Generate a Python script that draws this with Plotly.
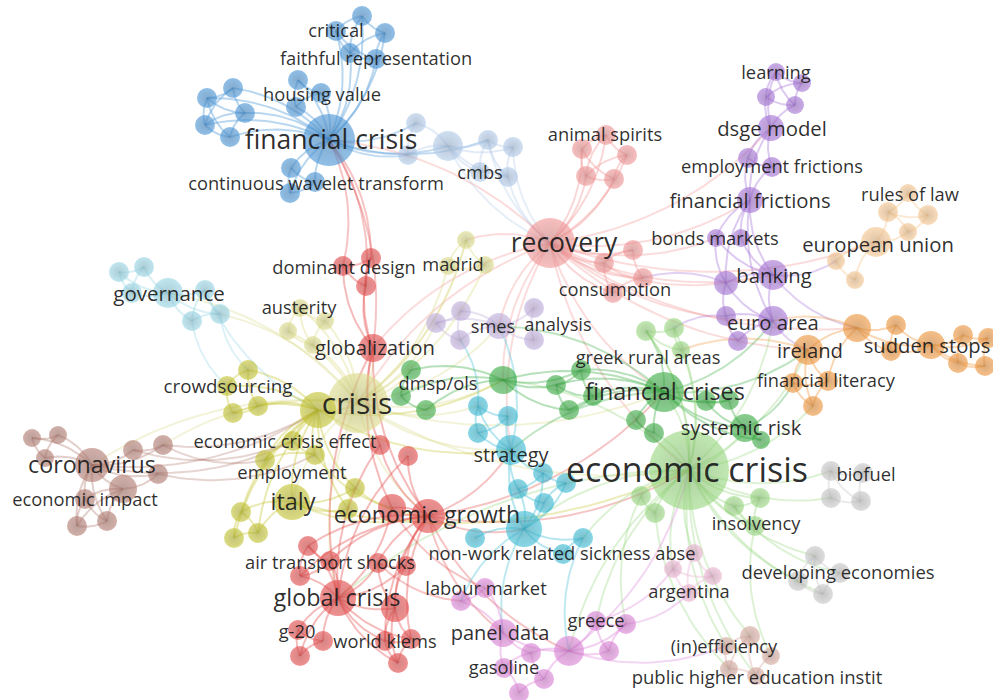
import numpy as np
import plotly.graph_objects as go

# ---- keyword co-occurrence map: nodes per cluster (id, x, y, radius) ----
blue = [("b0", 329, 140, 26), ("b1", 362, 16, 10), ("b2", 385, 33, 10), ("b3", 336, 31, 10),
        ("b4", 350, 53, 10), ("b5", 376, 59, 10), ("b6", 298, 80, 10), ("b7", 321, 93, 10),
        ("b8", 296, 107, 10), ("b9", 245, 113, 10), ("b10", 291, 168, 10), ("b11", 290, 193, 10),
        ("b12", 315, 182, 10), ("b13", 207, 98, 10), ("b14", 233, 88, 10), ("b16", 205, 125, 10),
        ("b17", 230, 137, 10)]
light_blue = [("lb0", 448, 146, 15), ("lb1", 416, 123, 10), ("lb2", 408, 155, 10), ("lb3", 488, 140, 10),
              ("lb4", 513, 147, 10), ("lb5", 508, 177, 10), ("lb6", 480, 172, 10)]
salmon = [("rc0", 550, 243, 25), ("rc1", 606, 135, 10), ("rc2", 582, 149, 10), ("rc3", 627, 155, 10),
          ("rc4", 586, 176, 10), ("rc5", 614, 179, 10), ("rc6", 633, 250, 10), ("rc7", 604, 263, 10),
          ("rc8", 643, 278, 10), ("rc9", 613, 293, 10)]
purple = [("p0", 776, 72, 9), ("p1", 802, 83, 9), ("p2", 766, 97, 9), ("p3", 795, 105, 9),
          ("p4", 771, 128, 13), ("p5", 748, 158, 10), ("p6", 772, 167, 10), ("p7", 750, 200, 13),
          ("p8", 716, 238, 9), ("p9", 741, 238, 9), ("p10", 773, 275, 15), ("p11", 726, 283, 12),
          ("p12", 773, 321, 15), ("p13", 726, 316, 10), ("p14", 738, 341, 10)]
lavender = [("lv0", 499, 326, 13), ("lv1", 436, 323, 10), ("lv2", 461, 311, 10), ("lv3", 460, 340, 10),
            ("lv4", 534, 308, 10), ("lv5", 534, 340, 10)]
orange = [("o0", 857, 328, 14), ("o1", 896, 325, 10), ("o2", 891, 351, 10), ("o3", 931, 345, 14),
          ("o4", 963, 335, 10), ("o5", 988, 338, 10), ("o6", 958, 363, 10), ("o7", 985, 366, 10),
          ("o8", 808, 350, 15), ("o9", 793, 383, 10), ("o10", 828, 381, 10), ("o11", 813, 406, 10)]
light_orange = [("lo0", 876, 242, 15), ("lo1", 836, 261, 9), ("lo2", 855, 280, 9), ("lo3", 908, 232, 9),
                ("lo4", 888, 212, 10), ("lo5", 908, 193, 9), ("lo6", 928, 215, 10)]
green = [("g0", 664, 392, 20), ("g1", 503, 380, 14), ("g2", 556, 385, 10), ("g3", 581, 370, 10),
         ("g4", 569, 410, 10), ("g5", 593, 396, 10), ("g6", 636, 420, 10), ("g7", 654, 433, 10),
         ("g8", 706, 401, 10), ("g9", 729, 400, 10), ("g10", 745, 428, 14), ("g11", 761, 440, 9),
         ("g12", 411, 370, 10), ("g13", 401, 396, 10), ("g14", 426, 410, 10)]
light_green = [("lg0", 689, 470, 40), ("lg1", 646, 331, 10), ("lg2", 674, 328, 10), ("lg3", 681, 350, 9),
               ("lg4", 641, 496, 10), ("lg5", 655, 513, 10), ("lg6", 734, 506, 10), ("lg7", 760, 498, 10),
               ("lg8", 755, 526, 10)]
cyan = [("c0", 478, 406, 10), ("c1", 478, 433, 10), ("c2", 508, 416, 10), ("c3", 511, 450, 15),
        ("c4", 524, 529, 18), ("c5", 518, 489, 10), ("c6", 543, 473, 10), ("c7", 566, 483, 10),
        ("c8", 544, 503, 10), ("c9", 583, 538, 10), ("c10", 563, 554, 10), ("c11", 475, 538, 10)]
light_cyan = [("lc0", 119, 272, 10), ("lc1", 144, 267, 10), ("lc2", 132, 293, 10), ("lc3", 168, 293, 15),
              ("lc4", 205, 290, 10), ("lc5", 220, 314, 10), ("lc6", 192, 321, 10)]
khaki = [("k0", 358, 403, 30), ("k1", 300, 308, 9), ("k2", 325, 321, 9), ("k3", 288, 331, 9),
         ("k4", 313, 345, 9), ("k5", 466, 240, 9), ("k6", 448, 266, 9), ("k7", 485, 265, 9)]
olive = [("ol0", 318, 410, 18), ("ol1", 248, 370, 10), ("ol2", 227, 386, 10), ("ol3", 233, 413, 10),
         ("ol4", 258, 406, 10), ("ol5", 293, 441, 10), ("ol6", 315, 455, 10), ("ol7", 265, 460, 10),
         ("ol8", 292, 502, 18), ("ol9", 355, 488, 10), ("ol10", 348, 509, 10), ("ol11", 258, 533, 10),
         ("ol12", 241, 512, 10), ("ol13", 234, 538, 10)]
red = [("r0", 428, 516, 17), ("r1", 392, 508, 14), ("r2", 308, 546, 10), ("r3", 300, 576, 10),
       ("r4", 330, 561, 10), ("r5", 378, 563, 10), ("r6", 406, 566, 10), ("r7", 338, 598, 18),
       ("r8", 395, 608, 14), ("r9", 298, 630, 10), ("r10", 323, 641, 10), ("r11", 300, 656, 10),
       ("r12", 385, 641, 10), ("r13", 411, 639, 10), ("r14", 398, 663, 10), ("r15", 343, 266, 10),
       ("r16", 371, 258, 10), ("r17", 366, 286, 10), ("r18", 373, 348, 14), ("r19", 380, 445, 10),
       ("r20", 408, 456, 10)]
brown = [("br0", 92, 465, 17), ("br1", 32, 438, 9), ("br2", 58, 435, 9), ("br3", 45, 458, 9),
         ("br4", 133, 450, 10), ("br5", 163, 445, 10), ("br6", 123, 489, 14), ("br7", 85, 499, 10),
         ("br8", 77, 526, 10), ("br9", 107, 521, 10), ("br10", 158, 474, 10)]
pink = [("pk0", 503, 633, 14), ("pk1", 569, 651, 15), ("pk2", 596, 621, 10), ("pk3", 626, 624, 10),
        ("pk4", 609, 651, 10), ("pk5", 531, 653, 10), ("pk6", 544, 679, 10), ("pk7", 519, 693, 10),
        ("pk8", 504, 668, 10), ("pk9", 461, 601, 10), ("pk10", 485, 588, 10)]
light_pink = [("lp0", 694, 553, 9), ("lp1", 673, 569, 9), ("lp2", 713, 576, 9), ("lp3", 689, 593, 9)]
tan = [("t0", 750, 636, 10), ("t1", 771, 656, 9), ("t2", 756, 676, 9), ("t3", 726, 646, 9),
       ("t4", 729, 669, 9)]
gray = [("gr0", 831, 471, 10), ("gr1", 863, 473, 10), ("gr2", 831, 498, 10), ("gr3", 861, 501, 10),
        ("gr4", 815, 556, 10), ("gr5", 840, 573, 10), ("gr6", 798, 581, 10), ("gr7", 823, 594, 10)]

clusters = {
    "blue": blue, "light_blue": light_blue, "salmon": salmon, "purple": purple,
    "lavender": lavender, "orange": orange, "light_orange": light_orange, "green": green,
    "light_green": light_green, "cyan": cyan, "light_cyan": light_cyan, "khaki": khaki,
    "olive": olive, "red": red, "brown": brown, "pink": pink, "light_pink": light_pink,
    "tan": tan, "gray": gray,
}

cluster_colors = {
    "blue": (74, 150, 215), "light_blue": (178, 203, 234), "salmon": (242, 150, 150),
    "purple": (166, 116, 215), "lavender": (194, 176, 222), "orange": (240, 150, 60),
    "light_orange": (245, 197, 142), "green": (60, 174, 70), "light_green": (153, 216, 128),
    "cyan": (60, 188, 214), "light_cyan": (152, 214, 230), "khaki": (220, 220, 140),
    "olive": (196, 196, 50), "red": (229, 75, 75), "brown": (180, 125, 115),
    "pink": (220, 130, 215), "light_pink": (235, 180, 210), "tan": (215, 170, 160),
    "gray": (200, 200, 200),
}

# ---- links (source, target) ----
links_within = [
    # financial crisis
    *[("b0", n) for n in ["b1", "b2", "b3", "b4", "b5", "b6", "b7", "b8", "b9", "b10", "b11", "b12",
                          "b13", "b14", "b16", "b17"]],
    ("b1", "b2"), ("b1", "b3"), ("b2", "b5"), ("b3", "b4"), ("b4", "b5"), ("b3", "b5"), ("b1", "b4"),
    ("b2", "b4"), ("b6", "b7"), ("b7", "b8"), ("b6", "b8"), ("b13", "b14"), ("b14", "b9"),
    ("b13", "b16"), ("b16", "b17"), ("b9", "b17"), ("b13", "b9"), ("b14", "b16"), ("b9", "b16"),
    ("b13", "b17"), ("b10", "b11"), ("b11", "b12"), ("b10", "b12"),
    # cmbs
    ("lb0", "lb1"), ("lb0", "lb2"), ("lb0", "lb3"), ("lb0", "lb4"), ("lb0", "lb5"), ("lb0", "lb6"),
    ("lb3", "lb4"), ("lb4", "lb5"), ("lb5", "lb6"), ("lb3", "lb6"), ("lb1", "lb2"), ("lb3", "lb5"),
    # recovery
    *[("rc0", n) for n in ["rc1", "rc2", "rc3", "rc4", "rc5", "rc6", "rc7", "rc8", "rc9"]],
    ("rc1", "rc2"), ("rc1", "rc3"), ("rc2", "rc4"), ("rc3", "rc5"), ("rc4", "rc5"), ("rc2", "rc5"),
    ("rc1", "rc4"), ("rc3", "rc4"), ("rc6", "rc7"), ("rc7", "rc8"), ("rc6", "rc8"), ("rc7", "rc9"),
    ("rc8", "rc9"),
    # dsge / banking
    ("p0", "p1"), ("p0", "p2"), ("p1", "p3"), ("p2", "p3"), ("p0", "p3"), ("p1", "p2"), ("p2", "p4"),
    ("p3", "p4"), ("p0", "p4"), ("p4", "p5"), ("p4", "p6"), ("p5", "p6"), ("p5", "p7"), ("p6", "p7"),
    ("p4", "p7"), ("p7", "p8"), ("p7", "p9"), ("p7", "p10"), ("p7", "p11"), ("p8", "p10"),
    ("p9", "p10"), ("p10", "p11"), ("p10", "p12"), ("p11", "p12"), ("p11", "p13"), ("p12", "p13"),
    ("p12", "p14"), ("p13", "p14"), ("p7", "p12"), ("p8", "p11"),
    # smes
    *[("lv0", n) for n in ["lv1", "lv2", "lv3", "lv4", "lv5"]],
    ("lv1", "lv2"), ("lv1", "lv3"), ("lv2", "lv3"), ("lv4", "lv5"),
    # sudden stops / ireland
    ("o0", "o1"), ("o0", "o2"), ("o1", "o2"), ("o1", "o3"), ("o2", "o3"), ("o3", "o4"), ("o3", "o5"),
    ("o3", "o6"), ("o3", "o7"), ("o4", "o5"), ("o4", "o6"), ("o6", "o7"), ("o5", "o7"), ("o0", "o3"),
    ("o0", "o8"), ("o8", "o9"), ("o8", "o10"), ("o8", "o11"), ("o9", "o10"), ("o9", "o11"),
    ("o10", "o11"), ("o0", "o10"),
    # european union
    ("lo0", "lo1"), ("lo0", "lo2"), ("lo1", "lo2"), ("lo0", "lo3"), ("lo0", "lo4"), ("lo3", "lo4"),
    ("lo4", "lo5"), ("lo4", "lo6"), ("lo5", "lo6"), ("lo3", "lo6"),
    # financial crises
    *[("g0", n) for n in ["g1", "g2", "g3", "g4", "g5", "g6", "g7", "g8", "g9", "g10", "g11"]],
    ("g1", "g2"), ("g1", "g12"), ("g1", "g13"), ("g1", "g14"), ("g12", "g13"), ("g13", "g14"),
    ("g2", "g3"), ("g2", "g4"), ("g3", "g5"), ("g4", "g5"), ("g6", "g7"), ("g8", "g9"), ("g9", "g10"),
    ("g10", "g11"), ("g8", "g10"), ("g1", "g3"), ("g1", "g4"), ("g2", "g5"),
    # economic crisis
    *[("lg0", n) for n in ["lg1", "lg2", "lg3", "lg4", "lg5", "lg6", "lg7", "lg8"]],
    ("lg1", "lg2"), ("lg1", "lg3"), ("lg2", "lg3"), ("lg4", "lg5"), ("lg6", "lg7"), ("lg6", "lg8"),
    ("lg7", "lg8"),
    # strategy
    ("c0", "c1"), ("c0", "c2"), ("c1", "c2"), ("c2", "c3"), ("c1", "c3"), ("c3", "c4"), ("c3", "c5"),
    ("c3", "c6"), ("c4", "c5"), ("c4", "c6"), ("c4", "c7"), ("c4", "c8"), ("c4", "c9"), ("c4", "c10"),
    ("c4", "c11"), ("c5", "c6"), ("c6", "c7"), ("c5", "c8"), ("c7", "c8"), ("c9", "c10"), ("c0", "c3"),
    # governance
    ("lc0", "lc1"), ("lc0", "lc2"), ("lc1", "lc3"), ("lc2", "lc3"), ("lc0", "lc3"), ("lc3", "lc4"),
    ("lc3", "lc5"), ("lc3", "lc6"), ("lc4", "lc5"), ("lc5", "lc6"), ("lc4", "lc6"), ("lc1", "lc2"),
    # crisis / austerity / madrid
    ("k0", "k1"), ("k0", "k2"), ("k0", "k3"), ("k0", "k4"), ("k1", "k2"), ("k1", "k3"), ("k2", "k4"),
    ("k3", "k4"), ("k1", "k4"), ("k0", "k5"), ("k0", "k6"), ("k0", "k7"), ("k5", "k6"), ("k5", "k7"),
    ("k6", "k7"),
    # italy / crowdsourcing
    *[("ol0", n) for n in ["ol1", "ol2", "ol3", "ol4", "ol5", "ol6", "ol7", "ol8", "ol9", "ol10",
                           "ol11", "ol12", "ol13"]],
    ("ol1", "ol2"), ("ol2", "ol3"), ("ol1", "ol4"), ("ol3", "ol4"), ("ol5", "ol6"), ("ol5", "ol7"),
    ("ol6", "ol7"), ("ol8", "ol9"), ("ol8", "ol10"), ("ol8", "ol11"), ("ol8", "ol12"), ("ol11", "ol12"),
    ("ol12", "ol13"), ("ol11", "ol13"), ("ol9", "ol10"), ("ol0", "k0"),
    # global crisis / economic growth
    *[("r0", n) for n in ["r1", "r2", "r3", "r4", "r5", "r6", "r8", "r12", "r13"]],
    *[("r7", n) for n in ["r1", "r2", "r3", "r4", "r5", "r6", "r8", "r9", "r10", "r11", "r12", "r13",
                          "r14"]],
    ("r2", "r3"), ("r2", "r4"), ("r3", "r4"), ("r5", "r6"), ("r5", "r8"), ("r6", "r8"), ("r8", "r12"),
    ("r8", "r13"), ("r8", "r14"), ("r12", "r13"), ("r12", "r14"), ("r13", "r14"), ("r9", "r10"),
    ("r9", "r11"), ("r10", "r11"), ("r15", "r16"), ("r15", "r17"), ("r16", "r17"), ("r17", "r18"),
    ("r15", "r18"), ("r18", "r0"), ("r18", "r7"), ("r18", "r19"), ("r19", "r0"), ("r20", "r0"),
    ("r19", "r7"), ("r20", "r7"), ("r16", "r18"), ("r18", "r1"),
    # coronavirus
    *[("br0", n) for n in ["br1", "br2", "br3", "br4", "br5", "br6", "br7", "br8", "br9", "br10"]],
    ("br1", "br2"), ("br1", "br3"), ("br2", "br3"), ("br4", "br5"), ("br6", "br7"), ("br6", "br8"),
    ("br6", "br9"), ("br7", "br8"), ("br8", "br9"), ("br7", "br9"), ("br6", "br10"),
    # panel data
    ("pk0", "pk1"), ("pk0", "pk5"), ("pk0", "pk8"), ("pk0", "pk9"), ("pk0", "pk10"), ("pk1", "pk2"),
    ("pk1", "pk3"), ("pk1", "pk4"), ("pk2", "pk3"), ("pk3", "pk4"), ("pk1", "pk5"), ("pk5", "pk6"),
    ("pk6", "pk7"), ("pk7", "pk8"), ("pk5", "pk8"), ("pk1", "pk6"), ("pk9", "pk10"), ("pk2", "pk4"),
    # argentina
    ("lp0", "lp1"), ("lp0", "lp2"), ("lp1", "lp3"), ("lp2", "lp3"), ("lp0", "lp3"), ("lp1", "lp2"),
    # public higher education
    ("t0", "t1"), ("t0", "t2"), ("t0", "t3"), ("t1", "t2"), ("t3", "t4"), ("t2", "t4"), ("t0", "t4"),
    # biofuel / developing economies
    ("gr0", "gr1"), ("gr0", "gr2"), ("gr1", "gr3"), ("gr2", "gr3"), ("gr0", "gr3"), ("gr4", "gr5"),
    ("gr4", "gr6"), ("gr5", "gr7"), ("gr6", "gr7"), ("gr4", "gr7"),
]

links_between = [
    ("r15", "b0"), ("r16", "b0"), ("r18", "b0"), ("r17", "b0"),
    ("b0", "lb0"), ("b0", "lb1"), ("b0", "lb2"), ("b0", "lb3"),
    ("lb0", "rc0"), ("lb3", "rc0"), ("lb5", "rc0"), ("lb4", "rc0"),
    ("rc0", "k0"), ("rc0", "k5"), ("rc0", "g0"), ("rc0", "lg0"), ("rc0", "p7"), ("rc0", "p10"),
    ("rc0", "p12"), ("rc0", "lo0"), ("rc0", "o0"), ("rc0", "lv0"), ("rc0", "r18"), ("rc0", "g1"),
    ("rc0", "c3"), ("rc0", "b0"), ("rc0", "p4"), ("rc0", "o8"), ("rc0", "p8"), ("rc0", "p11"),
    ("k0", "lc3"), ("k0", "lc5"), ("k0", "br0"), ("k0", "br5"), ("k0", "g1"), ("k0", "g12"),
    ("k0", "r18"), ("k0", "r0"), ("k0", "r7"), ("k0", "lg0"), ("k0", "c3"), ("k0", "ol8"),
    ("k0", "lv0"), ("k0", "g0"), ("k0", "c0"), ("k0", "lv1"), ("k0", "k5"),
    ("lc5", "ol1"), ("lc4", "ol0"), ("lc6", "ol2"),
    ("br0", "ol0"), ("br5", "ol0"), ("br4", "ol5"), ("br10", "ol6"), ("br0", "ol5"), ("br5", "ol7"),
    ("ol8", "r0"), ("ol9", "r0"), ("ol8", "lg0"), ("ol0", "g1"), ("ol6", "r1"), ("ol0", "c3"),
    ("r0", "c4"), ("r0", "lg0"), ("r0", "c3"), ("r0", "pk0"), ("r0", "pk1"), ("r0", "g0"),
    ("r1", "pk10"), ("r5", "pk9"),
    ("lg0", "g0"), ("lg0", "g10"), ("lg0", "gr0"), ("lg0", "gr2"), ("lg0", "gr4"), ("lg0", "gr6"),
    ("lg0", "gr7"), ("lg0", "lp0"), ("lg0", "lp1"), ("lg0", "t0"), ("lg0", "t3"), ("lg0", "t2"),
    ("lg0", "pk1"), ("lg0", "pk2"), ("lg0", "c4"), ("lg0", "c9"), ("lg0", "o8"), ("lg0", "o11"),
    ("lg0", "p12"), ("lg0", "g1"), ("lg0", "g7"), ("lg0", "r7"), ("lg0", "lg1"), ("lg4", "pk3"),
    ("lg5", "t4"), ("lg6", "gr5"), ("lg8", "t1"),
    ("g0", "o8"), ("g0", "p12"), ("g0", "lg1"), ("g0", "lv0"), ("g0", "c3"), ("g10", "o9"),
    ("c4", "pk9"), ("c4", "pk0"), ("c3", "lv0"), ("c0", "lv3"), ("c9", "pk1"),
    ("p12", "o8"), ("p10", "o0"), ("p10", "lo1"), ("p11", "rc8"), ("p13", "lg2"),
    ("o0", "p12"), ("o8", "lg3"),
    ("pk1", "lg0"), ("pk2", "lp1"), ("pk3", "lp3"), ("pk1", "t3"),
]

# ---- keyword labels (text, x, y, font px) ----
labels = [
    ("critical", 336, 30, 18.3), ("faithful representation", 376, 58, 18.3),
    ("housing value", 322, 94, 18.3), ("financial crisis", 331, 140, 26.5),
    ("continuous wavelet transform", 316, 183, 18.3), ("cmbs", 480, 172, 18.3),
    ("animal spirits", 605, 134, 18.3), ("learning", 776, 72, 18.3), ("dsge model", 772, 128, 20.3),
    ("employment frictions", 772, 166, 18.3), ("financial frictions", 750, 200, 20.3),
    ("rules of law", 910, 194, 18.3), ("recovery", 564, 243, 26.5), ("bonds markets", 715, 238, 18.3),
    ("european union", 878, 244, 20.3), ("dominant design", 344, 267, 18.3), ("madrid", 453, 264, 18.3),
    ("governance", 169, 293, 20.5), ("austerity", 299, 307, 18.3), ("consumption", 615, 289, 18.3),
    ("banking", 774, 275, 20.3), ("smes", 493, 326, 18.3), ("analysis", 558, 324, 18.3),
    ("euro area", 773, 322, 20.3), ("globalization", 375, 347, 20.3), ("ireland", 810, 350, 20.3),
    ("sudden stops", 927, 345, 20.2), ("greek rural areas", 648, 357, 18.3), ("crowdsourcing", 228, 386, 18.8),
    ("dmsp/ols", 438, 383, 18.3), ("financial crises", 665, 392, 23.4), ("financial literacy", 826, 380, 18.3),
    ("crisis", 357, 404, 30), ("systemic risk", 741, 427, 20.3), ("economic crisis effect", 285, 441, 18.3),
    ("coronavirus", 92, 465, 23.2), ("strategy", 511, 454, 20), ("economic crisis", 687, 471, 34),
    ("biofuel", 866, 474, 18.3), ("employment", 292, 472, 18.5), ("italy", 293, 502, 23.5),
    ("economic impact", 85, 499, 18.3), ("economic growth", 427, 515, 23.1), ("insolvency", 756, 523, 18.3),
    ("non-work related sickness abse", 562, 553, 18.3), ("air transport shocks", 330, 562, 18.3),
    ("developing economies", 838, 572, 18.5), ("labour market", 486, 588, 18.3), ("argentina", 689, 591, 18.3),
    ("global crisis", 337, 598, 23.4), ("panel data", 500, 632, 20), ("greece", 596, 620, 18.3),
    ("g-20", 297, 631, 18.3), ("world klems", 385, 641, 18.3), ("(in)efficiency", 724, 646, 18.3),
    ("gasoline", 504, 667, 18.3), ("public higher education instit", 757, 677, 18.5),
]

# ---- build lookup tables ----
pos = {}
owner = {}
for cname, members in clusters.items():
    for nid, x, y, r in members:
        pos[nid] = (x, y)
        owner[nid] = cname


def rgba(c, a):
    return f"rgba({c[0]},{c[1]},{c[2]},{a})"


def darker(c, f=0.82):
    return tuple(int(v * f) for v in c)


def arc(p0, p1, bend=0.18, n=24):
    """Quadratic Bezier between two node centres, bowed to one side."""
    (x0, y0), (x1, y1) = p0, p1
    mx, my = (x0 + x1) / 2, (y0 + y1) / 2
    dx, dy = x1 - x0, y1 - y0
    cx, cy = mx - dy * bend, my + dx * bend
    t = np.linspace(0, 1, n)
    xs = (1 - t) ** 2 * x0 + 2 * (1 - t) * t * cx + t ** 2 * x1
    ys = (1 - t) ** 2 * y0 + 2 * (1 - t) * t * cy + t ** 2 * y1
    return xs, ys


fig = go.Figure()

# links, grouped by the colour of the source cluster
for group, alpha, width in [(links_between, 0.33, 2.0), (links_within, 0.38, 2.0)]:
    by_color = {}
    for a, b in group:
        by_color.setdefault(owner[a], []).append((a, b))
    for cname, pairs in by_color.items():
        xs, ys = [], []
        for a, b in pairs:
            ax, ay = arc(pos[a], pos[b])
            xs += list(ax) + [None]
            ys += list(ay) + [None]
        fig.add_trace(go.Scatter(
            x=xs, y=ys, mode="lines", hoverinfo="skip", showlegend=False,
            line=dict(color=rgba(cluster_colors[cname], alpha), width=width),
        ))

# nodes, larger ones drawn first so small ones stay visible
for cname, members in clusters.items():
    members = sorted(members, key=lambda m: -m[3])
    col = cluster_colors[cname]
    fig.add_trace(go.Scatter(
        x=[m[1] for m in members], y=[m[2] for m in members], mode="markers",
        hoverinfo="skip", showlegend=False,
        marker=dict(size=[2 * m[3] for m in members], color=rgba(col, 0.88),
                    line=dict(width=0),
                    gradient=dict(type="radial", color=rgba(darker(col), 0.9))),
    ))

# labels (nudged down slightly so the glyphs sit on the node centres)
label_shift = 2.5
fig.add_trace(go.Scatter(
    x=[l[1] for l in labels], y=[l[2] + label_shift for l in labels], text=[l[0] for l in labels],
    mode="text", hoverinfo="skip", showlegend=False,
    textposition="middle center",
    textfont=dict(family="Open Sans", size=[l[3] for l in labels], color="rgba(25,25,25,0.92)"),
))

fig.update_layout(
    width=993, height=700, margin=dict(l=0, r=0, t=0, b=0),
    paper_bgcolor="white", plot_bgcolor="white",
    xaxis=dict(range=[0, 993], visible=False, fixedrange=True),
    yaxis=dict(range=[700, 0], visible=False, fixedrange=True),
)

fig.write_html("out.html")
